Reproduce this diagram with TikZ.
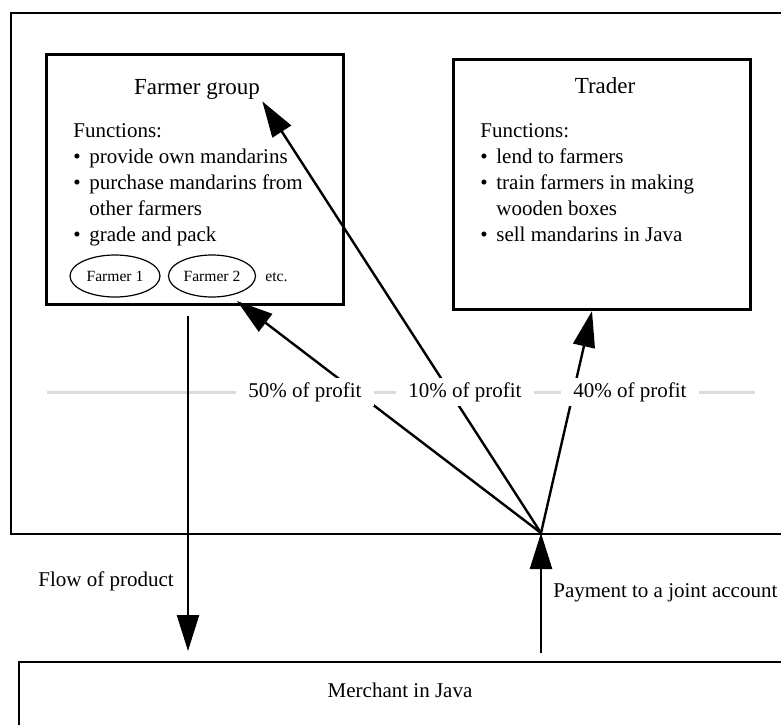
\documentclass[tikz,border=0pt]{standalone}
\usepackage{fontspec}
\setmainfont{Liberation Serif}
\usepackage{tikz}
\usetikzlibrary{arrows.meta,shapes.geometric}
\definecolor{divider}{RGB}{214,221,221}
\newcommand{\bul}{\makebox[8pt][l]{\textbullet}}

\begin{document}
\begin{tikzpicture}[x=0.5pt,y=-0.5pt,>={Triangle[length=18pt,width=11pt]},
  region/.style={draw,line width=1.2pt,anchor=north west,inner sep=0pt},
  box/.style={draw,line width=1.5pt,minimum width=148.5pt,minimum height=125pt,anchor=north west,inner sep=0pt},
  flow/.style={->,line width=1.2pt},
  title/.style={font=\fontsize{11.5}{14}\selectfont,inner sep=1pt,anchor=base},
  body/.style={font=\fontsize{10.5}{13}\selectfont,align=left,inner sep=0pt,anchor=north west},
  farmer/.style={ellipse,draw,line width=0.6pt,minimum width=45pt,minimum height=21pt,inner sep=0pt,font=\fontsize{7.8}{9}\selectfont},
  share/.style={fill=white,inner xsep=6pt,inner ysep=2pt,font=\fontsize{10.5}{13}\selectfont},
  lbl/.style={font=\fontsize{10.5}{13}\selectfont,inner sep=0pt,anchor=base west}]
  \useasboundingbox (0,0) rectangle (781,724);
  \clip (0,0) rectangle (781,724);
  \node[region,minimum width=405pt,minimum height=260.5pt] (group) at (10,12) {};
  \node[region,minimum width=400pt,minimum height=50pt] (merchant) at (18,661) {};
  \node[lbl,anchor=base] (merchanttext) at (400,697) {Merchant in Java};
  \node[box] (fg) at (45,53) {};
  \node[box] (tr) at (452,58) {};
  \node[title] (fgtitle) at (197,94) {Farmer group};
  \node[title] (trtitle) at (605,93) {Trader};
  \node[body] (fgfun) at (73,123) {Functions:\\\bul provide own mandarins\\\bul purchase mandarins from\\\hspace*{8pt}other farmers\\\bul grade and pack};
  \node[body] (trfun) at (480,123) {Functions:\\\bul lend to farmers\\\bul train farmers in making\\\hspace*{8pt}wooden boxes\\\bul sell mandarins in Java};
  \node[farmer] (f1) at (115,276) {Farmer 1};
  \node[farmer,minimum width=43.5pt] (f2) at (212,276) {Farmer 2};
  \node[font=\fontsize{7.8}{9}\selectfont,inner sep=0pt,anchor=base west] (etc) at (265,281) {etc.};
  \draw[divider,line width=1.5pt] (47,392) -- (755,392);
  \coordinate (apex) at (541,533);
  \coordinate (fgtip) at (237,301);
  \coordinate (trtip) at (592,311);
  \coordinate (flowtop) at (188,316);
  \coordinate (paybot) at (541,653);
  \draw[flow,shorten >=5pt] (flowtop) -- (flowtop |- merchant.north);
  \draw[flow] (paybot) -- (apex);
  \draw[flow] (apex) -- (fgtip);
  \draw[flow] (apex) -- (fgtitle.south east);
  \draw[flow] (apex) -- (trtip);
  \node[share] (p50) at (305,392) {50\% of profit};
  \node[share] (p10) at (465,392) {10\% of profit};
  \node[share] (p40) at (630,392) {40\% of profit};
  \node[lbl] (flowlbl) at (38,586) {Flow of product};
  \node[lbl] (paylbl) at (553,597) {Payment to a joint account};
\end{tikzpicture}
\end{document}
